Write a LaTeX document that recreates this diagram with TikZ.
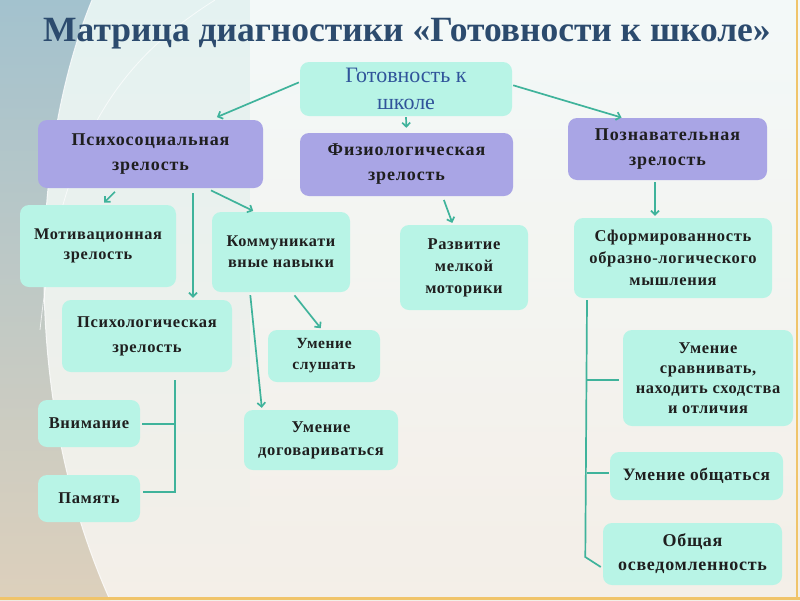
\documentclass[tikz,border=0pt]{standalone}
\usepackage{fontspec}
\setmainfont{Liberation Serif}
\usetikzlibrary{arrows.meta}
\definecolor{lav}{HTML}{A9A5E5}
\definecolor{aqua}{HTML}{B8F4E6}
\definecolor{conn}{HTML}{3FB39B}
\definecolor{ttl}{HTML}{2C4B6E}
\definecolor{gkt}{HTML}{30549A}
\definecolor{bgtop}{HTML}{E4F2F1}
\definecolor{bgbot}{HTML}{F4EFE8}
\definecolor{edge}{HTML}{F0C46A}
\definecolor{leftA}{HTML}{A3C2CE}
\definecolor{leftB}{HTML}{DDD0BC}
\begin{document}
\begin{tikzpicture}[x=1pt,y=-1pt,
  bx/.style={rounded corners=9pt, align=center, inner sep=2pt, text=black!88,
    font=\fontsize{16.5}{22}\selectfont\bfseries\addfontfeature{LetterSpace=4}},
  lavbox/.style={bx, fill=lav},
  aquabox/.style={bx, fill=aqua},
  arr/.style={draw=conn, line width=1.7pt, -{Straight Barb[length=4pt,width=8pt]}},
  ln/.style={draw=conn, line width=1.7pt}
]
\useasboundingbox (0,0) rectangle (800,600);
% background
\shade[top color=bgtop, bottom color=bgbot] (0,0) rectangle (800,600);
\shade[top color=white!70!bgtop, bottom color=bgbot, opacity=0.8] (250,0) rectangle (800,600);
\shade[top color=leftA, bottom color=leftB] (0,0) -- (92,0) .. controls (30,150) and (20,400) .. (110,600) -- (0,600) -- cycle;
\draw[white, line width=1pt, opacity=0.8] (92,0) .. controls (30,150) and (20,400) .. (110,600);
\draw[white, line width=0.8pt, opacity=0.7] (215,0) .. controls (120,60) and (60,140) .. (40,330);
\draw[edge, line width=2pt] (797,0) -- (797,600);
\draw[edge, line width=3pt] (0,598) -- (800,598);

% title
\node[text=ttl, font=\fontsize{35.5}{40}\selectfont\bfseries] (title) at (407,34) {Матрица диагностики «Готовности к школе»};

% nodes
\node[aquabox, minimum width=212pt, minimum height=54pt, text=gkt,
  font=\fontsize{22}{27}\selectfont] (gk) at (406,89) {Готовность к\\школе};
\node[lavbox, minimum width=225pt, minimum height=68pt,
  font=\fontsize{18}{25}\selectfont\bfseries\addfontfeature{LetterSpace=5}] (ps) at (150.5,154) {Психосоциальная\\зрелость};
\node[lavbox, minimum width=213pt, minimum height=63pt,
  font=\fontsize{18}{25}\selectfont\bfseries\addfontfeature{LetterSpace=5}] (fz) at (406.5,164.5) {Физиологическая\\зрелость};
\node[lavbox, minimum width=199pt, minimum height=62pt,
  font=\fontsize{18}{25}\selectfont\bfseries\addfontfeature{LetterSpace=5}] (pz) at (667.5,149) {Познавательная\\зрелость};
\node[aquabox, minimum width=156pt, minimum height=82pt,
  font=\fontsize{16.3}{20}\selectfont\bfseries\addfontfeature{LetterSpace=4}] (mot) at (98,246) {Мотивационная\\зрелость};
\node[aquabox, minimum width=138pt, minimum height=80pt,
  font=\fontsize{16.3}{21}\selectfont\bfseries\addfontfeature{LetterSpace=4}] (kom) at (281,252) {Коммуникати\\вные навыки};
\node[aquabox, minimum width=128pt, minimum height=85pt] (raz) at (464,267.5) {Развитие\\мелкой\\моторики};
\node[aquabox, minimum width=198pt, minimum height=80pt] (sf) at (673,258) {Сформированность\\образно-логического\\мышления};
\node[aquabox, minimum width=170pt, minimum height=72pt,
  font=\fontsize{16.5}{25}\selectfont\bfseries\addfontfeature{LetterSpace=4}] (psl) at (147,336) {Психологическая\\зрелость};
\node[aquabox, minimum width=112pt, minimum height=52pt,
  font=\fontsize{15.5}{21}\selectfont\bfseries\addfontfeature{LetterSpace=4}] (slu) at (324,356) {Умение\\слушать};
\node[aquabox, minimum width=154pt, minimum height=60pt,
  font=\fontsize{16.5}{23}\selectfont\bfseries\addfontfeature{LetterSpace=4}] (dog) at (321,440) {Умение\\договариваться};
\node[aquabox, minimum width=102pt, minimum height=47pt] (vni) at (89,423.5) {Внимание};
\node[aquabox, minimum width=102pt, minimum height=47pt] (pam) at (89,498.5) {Память};
\node[aquabox, minimum width=170pt, minimum height=96pt,
  font=\fontsize{16.4}{20}\selectfont\bfseries\addfontfeature{LetterSpace=4}] (srav) at (708,378) {Умение\\сравнивать,\\находить сходства\\и отличия};
\node[aquabox, minimum width=173pt, minimum height=48pt,
  font=\fontsize{17.4}{22}\selectfont\bfseries\addfontfeature{LetterSpace=4}] (obsh) at (696.5,476) {Умение общаться};
\node[aquabox, minimum width=179pt, minimum height=62pt,
  font=\fontsize{18}{24}\selectfont\bfseries\addfontfeature{LetterSpace=4}] (osv) at (692.5,554) {Общая\\осведомленность};

% connectors
\draw[arr, shorten <=1pt, shorten >=7pt] ([yshift=7pt]gk.west) -- ([xshift=60pt]ps.north);
\draw[arr, shorten <=1pt, shorten >=1pt] ([yshift=4pt]gk.east) -- ([xshift=-45pt]pz.north);
\draw[arr, shorten <=1pt, shorten >=5pt] (gk.south) -- (fz.north);
\draw[arr, shorten <=5pt, shorten >=3pt] ([xshift=-32pt]ps.south) -- ([xshift=4pt]mot.north);
\draw[arr, shorten <=5pt, shorten >=2pt] ([xshift=42.5pt]ps.south) -- ([xshift=46pt]psl.north);
\draw[arr, shorten <=5pt, shorten >=2pt] ([xshift=56pt]ps.south) -- ([xshift=-26pt]kom.north);
\draw[arr, shorten <=4pt, shorten >=2pt] ([xshift=36pt]fz.south) -- ([xshift=-11pt]raz.north);
\draw[arr, shorten <=2pt, shorten >=2pt] ([xshift=-12.5pt]pz.south) -- ([xshift=-18pt]sf.north);
\draw[arr, shorten <=3pt, shorten >=2pt] ([xshift=-31pt]kom.south) -- ([xshift=-59pt]dog.north);
\draw[arr, shorten <=4pt, shorten >=2pt] ([xshift=11pt]kom.south) -- ([xshift=-2pt]slu.north);
\draw[ln] ([xshift=28pt,yshift=-8pt]psl.south) |- ([xshift=3pt,yshift=6.5pt]pam.east);
\draw[ln] ([xshift=2pt,yshift=-0.5pt]vni.east) -- ([xshift=35.8pt,yshift=-0.5pt]vni.east);
\draw[ln] ([xshift=-86pt,yshift=-2pt]sf.south) -- ([xshift=-17.5pt,yshift=-3pt]osv.west) -- ([xshift=-2pt,yshift=-13pt]osv.west);
\draw[ln] ([xshift=-36pt,yshift=-2pt]srav.west) -- ([xshift=-4pt,yshift=-2pt]srav.west);
\draw[ln] ([xshift=-23pt,yshift=3pt]obsh.west) -- ([xshift=-1pt,yshift=3pt]obsh.west);
\end{tikzpicture}
\end{document}
